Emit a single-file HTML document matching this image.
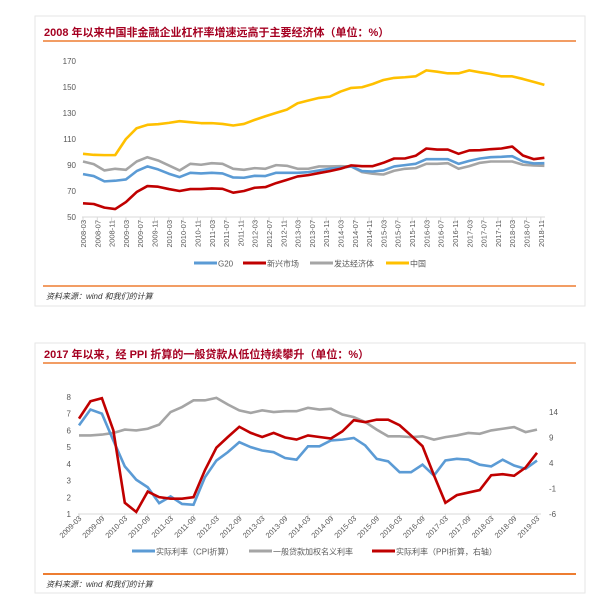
<!DOCTYPE html>
<html><head><meta charset="utf-8">
<style>
body{margin:0;background:#fff;width:609px;height:613px;overflow:hidden;font-family:"Liberation Sans","Noto Sans CJK SC",sans-serif;}
svg{position:absolute;left:0;top:0}
</style></head>
<body>
<svg id="s" width="609" height="613">
<rect x="35" y="16" width="550" height="290" fill="none" stroke="#e6e6e6"/>
<rect x="35" y="343" width="550" height="250" fill="none" stroke="#e6e6e6"/>
<text x="44" y="36" font-size="11" font-weight="bold" fill="#a50021">2008 年以来中国非金融企业杠杆率增速远高于主要经济体（单位：%）</text>
<line x1="43" y1="41" x2="576" y2="41" stroke="#ed7d31" stroke-width="1.5"/>
<line x1="43" y1="286" x2="576" y2="286" stroke="#ed7d31" stroke-width="1.5"/>
<text x="46" y="299" font-size="8" font-style="italic" fill="#333">资料来源：wind 和我们的计算</text>
<text x="44" y="358" font-size="11" font-weight="bold" fill="#a50021">2017 年以来，经 PPI 折算的一般贷款从低位持续攀升（单位：%）</text>
<line x1="43" y1="363" x2="576" y2="363" stroke="#ed7d31" stroke-width="1.5"/>
<line x1="43" y1="574" x2="576" y2="574" stroke="#ed7d31" stroke-width="2"/>
<text x="46" y="587" font-size="8" font-style="italic" fill="#333">资料来源：wind 和我们的计算</text>
<g id="c1"></g><g id="c2"></g>
</svg>
<script>
// ---- Chart 1 data (quarterly 2008Q1 - 2018Q4)
const topXLabels = ["2008-03","2008-07","2008-11","2009-03","2009-07","2009-11","2010-03","2010-07","2010-11","2011-03","2011-07","2011-11","2012-03","2012-07","2012-11","2013-03","2013-07","2013-11","2014-03","2014-07","2014-11","2015-03","2015-07","2015-11","2016-03","2016-07","2016-11","2017-03","2017-07","2017-11","2018-03","2018-07","2018-11"];
const topYTicks = [50,70,90,110,130,150,170];
const g20 = [83,81.5,77.4,77.9,78.9,85.3,88.9,86.6,83.3,80.7,84,83.5,84,83.5,80.4,80.2,81.7,81.5,84,84,84,84.5,85.8,87.1,87.9,88.9,85.3,85,85.8,88.9,89.9,90.9,94.5,94.5,94.5,90.9,93.2,95,96,96.3,96.8,92.7,91.2,91.4];
const emerging = [60.5,60,57.2,56.1,61.5,69.2,73.8,73.3,71.5,70,71.5,71.5,72,71.7,68.7,70,72.5,73,76.1,78.6,81.2,82.2,83.8,85.3,87.1,89.7,89.1,89.1,91.7,95,95,97.1,102.7,101.9,101.9,98.6,101.2,101.4,102.2,102.7,104.2,97.3,94.5,95.5];
const developed = [92.7,90.7,85.8,87.1,86.3,92.7,96,93.5,89.7,85.8,90.9,90.2,91.4,90.9,87.1,86.3,87.6,87.1,89.9,89.4,87.1,87.1,88.9,88.9,89.1,88.9,84.5,83.3,82.7,85.6,87.1,87.6,90.9,90.9,91.4,87.1,89.1,91.7,92.7,92.7,92.7,90.2,89.7,89.4];
const china = [98.6,97.8,97.6,97.6,110,118.3,120.9,121.4,122.4,123.7,122.9,122.2,122.2,121.6,120.4,121.6,124.7,127.5,130.1,132.6,137.5,139.6,141.6,142.6,146.5,149.3,149.8,152.3,155.4,157,157.5,158.2,162.8,161.8,160.5,160.5,162.8,161.3,160,158.2,158.2,156.2,153.9,151.6];
const topSeriesNames = ["G20","新兴市场","发达经济体","中国"];

// ---- Chart 2 data (quarterly 2009Q1 - 2019Q1)
const botXLabels = ["2009-03","2009-09","2010-03","2010-09","2011-03","2011-09","2012-03","2012-09","2013-03","2013-09","2014-03","2014-09","2015-03","2015-09","2016-03","2016-09","2017-03","2017-09","2018-03","2018-09","2019-03"];
const botLeftTicks = [1,2,3,4,5,6,7,8];
const botRightTicks = [-6,-1,4,9,14];
const cpiReal = [6.3,7.25,7.0,5.4,3.85,3.05,2.6,1.65,2.05,1.6,1.55,3.2,4.2,4.7,5.3,5.0,4.8,4.7,4.35,4.25,5.05,5.05,5.4,5.45,5.55,5.1,4.3,4.15,3.5,3.5,3.95,3.3,4.2,4.3,4.25,3.95,3.85,4.25,3.9,3.7,4.2];
const nominalRate = [5.7,5.7,5.75,5.85,6.05,6.0,6.1,6.35,7.1,7.4,7.8,7.8,7.95,7.55,7.2,7.05,7.2,7.1,7.15,7.15,7.35,7.25,7.3,6.95,6.8,6.5,6.05,5.65,5.65,5.6,5.65,5.45,5.6,5.7,5.85,5.8,6.0,6.1,6.2,5.9,6.05];
const ppiReal = [12.7,16.1,16.7,10.4,-3.8,-5.6,-1.6,-2.7,-3.0,-3.0,-2.7,2.6,7.0,9.1,11.1,9.9,9.1,9.9,9.0,8.6,9.4,9.1,8.8,10.2,12.4,12.0,12.5,12.5,11.4,9.4,7.3,1.6,-3.8,-2.3,-1.8,-1.3,1.6,1.8,1.5,3.1,6.0];
const botSeriesNames = ["实际利率（CPI折算）","一般贷款加权名义利率","实际利率（PPI折算，右轴）"];

const NS="http://www.w3.org/2000/svg";
function mk(tag,attrs,parent,text){const e=document.createElementNS(NS,tag);for(const k in attrs)e.setAttribute(k,attrs[k]);if(text!==undefined)e.textContent=text;parent.appendChild(e);return e;}

// ---- Chart 1 axes
const c1=document.getElementById('c1');
const x1=i=>83+i*10.73;
const y1=v=>217-(v-50)*(156/120);
topYTicks.forEach(v=>{
  const t=mk('text',{x:76,y:y1(v)+3,'font-size':8,fill:'#595959','text-anchor':'end'},c1,String(v));
  
  
});
const ax1=mk('line',{x1:82,y1:217,x2:545,y2:217,stroke:'#d9d9d9'},c1);


topXLabels.forEach((l,k)=>{
  const x=x1(k*4/3);
  mk('line',{x1:x,y1:217,x2:x,y2:221,stroke:'#d9d9d9'},c1);
  const t=mk('text',{x:0,y:0,'font-size':7.5,fill:'#595959','text-anchor':'end',transform:`translate(${x+3},220) rotate(-90)`},c1,l);
  
  
});
const topSeries=[[developed,'#a5a5a5'],[g20,'#5b9bd5'],[emerging,'#c00000'],[china,'#ffc000']];
const topNames=['series-developed','series-g20','series-emerging','series-china'];
topSeries.forEach(([d,c],si)=>{
  const p=mk('polyline',{points:d.map((v,i)=>x1(i)+','+y1(v)).join(' '),fill:'none',stroke:c,'stroke-width':2.6,'stroke-linejoin':'round'},c1);
  
  
});
const leg1=[[194,'#5b9bd5'],[243,'#c00000'],[310,'#a5a5a5'],[386,'#ffc000']];
leg1.forEach(([x,c],i)=>{
  const g=mk('g',{},c1);
  
  
  mk('line',{x1:x,y1:263,x2:x+23,y2:263,stroke:c,'stroke-width':3},g);
  mk('text',{x:x+24,y:266.5,'font-size':8,fill:'#595959'},g,topSeriesNames[i]);
});

// ---- Chart 2 axes
const c2=document.getElementById('c2');
const x2=i=>79+i*11.45;
const yl=v=>514-(v-1)*(117/7);
const yr=v=>514-(v+6)*(102/20);
botLeftTicks.forEach(v=>{
  const t=mk('text',{x:71,y:yl(v)+3,'font-size':8,fill:'#595959','text-anchor':'end'},c2,String(v));
  
  
});
botRightTicks.forEach(v=>{
  const t=mk('text',{x:549,y:yr(v)+3,'font-size':8,fill:'#595959'},c2,String(v));
  
  
});
const ax2=mk('line',{x1:78,y1:514,x2:541,y2:514,stroke:'#d9d9d9'},c2);


botXLabels.forEach((l,k)=>{
  const x=x2(k*2);
  mk('line',{x1:x,y1:514,x2:x,y2:518,stroke:'#d9d9d9'},c2);
  const t=mk('text',{x:0,y:0,'font-size':7.5,fill:'#595959','text-anchor':'end',transform:`translate(${x+3},519) rotate(-45)`},c2,l);
  
  
});
const pN=mk('polyline',{points:nominalRate.map((v,i)=>x2(i)+','+yl(v)).join(' '),fill:'none',stroke:'#a5a5a5','stroke-width':2.6},c2);


const pC=mk('polyline',{points:cpiReal.map((v,i)=>x2(i)+','+yl(v)).join(' '),fill:'none',stroke:'#5b9bd5','stroke-width':2.6},c2);


const pP=mk('polyline',{points:ppiReal.map((v,i)=>x2(i)+','+yr(v)).join(' '),fill:'none',stroke:'#c00000','stroke-width':2.6},c2);


const leg2=[[132,'#5b9bd5'],[249,'#a5a5a5'],[372,'#c00000']];
leg2.forEach(([x,c],i)=>{
  const g=mk('g',{},c2);
  
  
  mk('line',{x1:x,y1:551,x2:x+23,y2:551,stroke:c,'stroke-width':3},g);
  mk('text',{x:x+24,y:554.5,'font-size':8,fill:'#595959'},g,botSeriesNames[i]);
});
</script>
</body></html>
